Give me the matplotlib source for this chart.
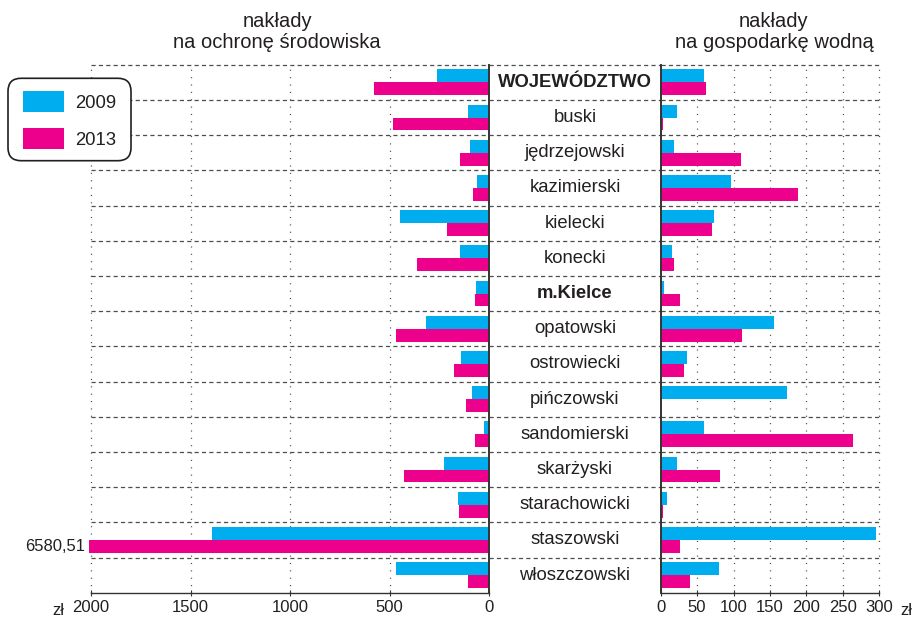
import numpy as np
import matplotlib
matplotlib.use('Agg')
import matplotlib.pyplot as plt
from matplotlib.patches import FancyBboxPatch, Rectangle

plt.rcParams['font.family'] = ['Liberation Sans', 'DejaVu Sans']
plt.rcParams['lines.scale_dashes'] = False

# ---------------- data ----------------
categories = ['WOJEWÓDZTWO', 'buski', 'jędrzejowski', 'kazimierski', 'kielecki',
              'konecki', 'm.Kielce', 'opatowski', 'ostrowiecki', 'pińczowski',
              'sandomierski', 'skarżyski', 'starachowicki', 'staszowski', 'włoszczowski']
bold_categories = ['WOJEWÓDZTWO', 'm.Kielce']
env_2009 = [262, 107, 97, 62, 448, 147, 67, 318, 142, 87, 27, 227, 157, 1392, 468]
env_2013 = [579, 483, 147, 82, 212, 363, 72, 468, 177, 117, 72, 428, 152, 6580.51, 107]
water_2009 = [60, 23, 18, 96, 73, 15, 4, 155, 36, 173, 59, 23, 8, 296, 80]
water_2013 = [62, 3, 110, 188, 70, 18, 27, 111, 32, 0, 264, 82, 3, 26, 40]
left_ticks = [2000, 1500, 1000, 500, 0]
right_ticks = [0, 50, 100, 150, 200, 250, 300]
series_labels = ['2009', '2013']
left_title = ['nakłady', 'na ochronę środowiska']
right_title = ['nakłady', 'na gospodarkę wodną']
currency = 'zł'
overflow_label = '6580,51'

BLUE = '#00AEEF'
PINK = '#EC008C'
TXT = '#231f20'
GRID = '#4d4d4d'
AXC = '#333333'

W, H = 914, 617
fig = plt.figure(figsize=(W / 100, H / 100), dpi=100)

top_px, bot_px = 64.7, 592.7
y0 = (H - bot_px) / H
hh = (bot_px - top_px) / H
xL0, xL1 = 91.0, 489.3
xR0, xR1 = 660.7, 879.3

axL = fig.add_axes([xL0 / W, y0, (xL1 - xL0) / W, hh])
axM = fig.add_axes([xL1 / W, y0, (xR0 - xL1) / W, hh])
axR = fig.add_axes([xR0 / W, y0, (xR1 - xR0) / W, hh])

n = len(categories)
y = np.arange(n)
bh = 0.364
off = 0.182
LMAX = 2000
cap = LMAX * 1.004

for ax in (axL, axM, axR):
    ax.set_ylim(n - 0.5, -0.5)
    ax.set_facecolor('none')
    for s in ('top', 'left', 'right'):
        ax.spines[s].set_visible(False)
    ax.set_yticks([])
    # horizontal dashed separators
    for k in range(n):
        ax.axhline(k - 0.5, color=GRID, lw=0.9, dashes=(3.0, 2.3), clip_on=False, zorder=1)

axM.axis('off')

# left panel
axL.set_xlim(LMAX, 0)
env13 = np.minimum(np.array(env_2013, dtype=float), cap)
axL.barh(y - off, env_2009, height=bh, color=BLUE, zorder=3, linewidth=0)
axL.barh(y + off, env13, height=bh, color=PINK, zorder=3, linewidth=0, clip_on=False)
for t in left_ticks[:-1]:
    axL.axvline(t, color=GRID, lw=0.9, dashes=(0.8, 4.5), clip_on=False, zorder=1)
axL.axvline(0, color=AXC, lw=1.4, clip_on=False, zorder=4)
axL.set_xticks(left_ticks)
axL.set_xticklabels([str(t) for t in left_ticks])
idx = categories.index('staszowski')
axL.annotate(overflow_label, xy=(LMAX, idx + off), xytext=(-4, 0), textcoords='offset points',
             ha='right', va='center', fontsize=12, color=TXT)

# right panel
axR.set_xlim(0, 300)
axR.barh(y - off, water_2009, height=bh, color=BLUE, zorder=3, linewidth=0)
axR.barh(y + off, water_2013, height=bh, color=PINK, zorder=3, linewidth=0)
for t in right_ticks[1:]:
    axR.axvline(t, color=GRID, lw=0.9, dashes=(0.8, 4.5), clip_on=False, zorder=1)
axR.axvline(0, color=AXC, lw=1.4, clip_on=False, zorder=4)
axR.set_xticks(right_ticks)
axR.set_xticklabels([str(t) for t in right_ticks])

for ax in (axL, axR):
    ax.spines['bottom'].set_color(AXC)
    ax.spines['bottom'].set_linewidth(1.0)
    ax.tick_params(axis='x', direction='inout', length=4, width=0.8, color=AXC,
                   labelsize=12, labelcolor=TXT, pad=3)

# middle labels
axM.set_xlim(0, 1)
for i, c in enumerate(categories):
    axM.text(0.5, i, c, ha='center', va='center', fontsize=13.3, color=TXT,
             fontweight='bold' if c in bold_categories else 'normal')

# currency labels
fig.text(58 / W, (H - 615) / H, currency, ha='center', va='baseline', fontsize=12, color=TXT)
fig.text(906 / W, (H - 615) / H, currency, ha='center', va='baseline', fontsize=12, color=TXT)

# titles
for cx, lines in ((277, left_title), (774, right_title)):
    fig.text(cx / W, (H - 26.7) / H, lines[0], ha='center', va='baseline', fontsize=14.5, color=TXT)
    fig.text(cx / W, (H - 48.3) / H, lines[1], ha='center', va='baseline', fontsize=14.5, color=TXT)

# legend box (pixel -> inch coordinates)
tr = fig.dpi_scale_trans
box = FancyBboxPatch((8 / 100, (H - 160.7) / 100), 123 / 100, 82.4 / 100,
                     boxstyle='round,pad=0,rounding_size=0.13', transform=tr,
                     facecolor='white', edgecolor=TXT, lw=1.2)
fig.add_artist(box)
for (col, lab, ytop, base) in ((BLUE, series_labels[0], 91, 108), (PINK, series_labels[1], 128, 145)):
    fig.add_artist(Rectangle((23 / 100, (H - ytop - 20.7) / 100), 40.7 / 100, 20.7 / 100,
                             transform=tr, facecolor=col, edgecolor='none'))
    fig.text(75 / W, (H - base) / H, lab, ha='left', va='baseline', fontsize=13.3, color=TXT)

fig.savefig('out.png', dpi=100)
